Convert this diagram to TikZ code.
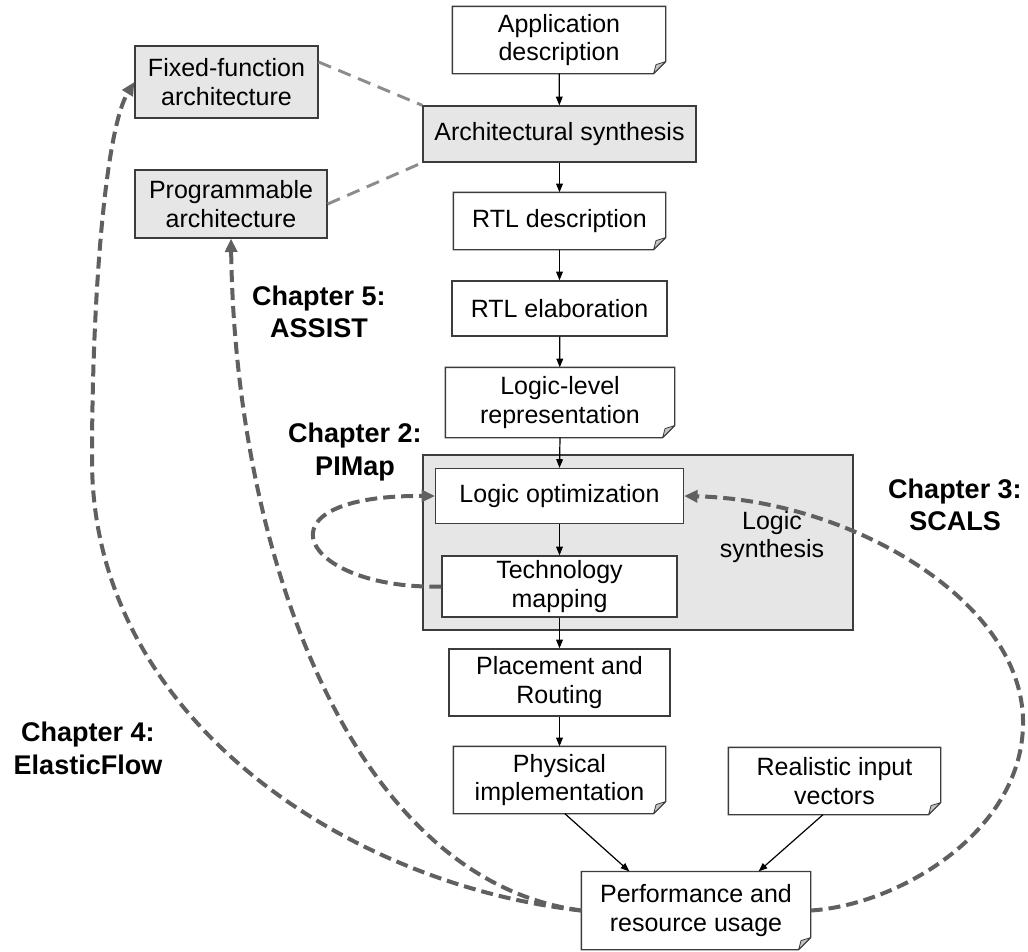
\documentclass[tikz,border=0pt]{standalone}
\usepackage{fontspec}
\setmainfont{Liberation Sans}
\usetikzlibrary{arrows.meta,backgrounds}

\definecolor{boxline}{HTML}{3C3C3C}
\definecolor{panel}{HTML}{E6E6E6}
\definecolor{flap}{HTML}{C4C4C4}
\definecolor{curve}{HTML}{606060}
\definecolor{linkgrey}{HTML}{8C8C8C}

\tikzset{
  sz/.style 2 args={minimum width=#1*0.75pt, minimum height=#2*0.75pt},
  box/.style={draw=boxline, line width=0.95pt, fill=white, align=center,
    inner sep=0pt, font=\fontsize{18.75pt}{21.5pt}\selectfont},
  shaded/.style={box, fill=panel},
  docnode/.style={box, draw=none, fill=none},
  flow/.style={-{Triangle[length=6.5pt,width=5pt]}, line width=0.9pt, black},
  feedback/.style={-{Triangle[length=10pt,width=9pt]}, line width=3pt,
    draw=curve, dash pattern=on 9pt off 4.5pt},
  link/.style={draw=linkgrey, line width=2.2pt, dash pattern=on 10pt off 6pt},
  chapter/.style={align=center, inner sep=0pt,
    font=\fontsize{20.25pt}{24.5pt}\selectfont\bfseries},
  plain/.style={align=center, inner sep=0pt,
    font=\fontsize{18.75pt}{21.5pt}\selectfont},
}

% outline of a document node: rectangle with a folded bottom-right corner
\newcommand\foldbox[1]{%
  \filldraw[fill=white, draw=boxline, line width=0.95pt]
    (#1.north west) -- (#1.north east) -- ([yshift=9pt]#1.south east)
    -- ([xshift=-9pt]#1.south east) -- (#1.south west) -- cycle;
  \filldraw[fill=flap, draw=boxline, line width=0.6pt, line join=round]
    ([yshift=9pt]#1.south east) -- ([xshift=-7.2pt,yshift=6.8pt]#1.south east)
    -- ([xshift=-9pt]#1.south east) -- cycle;
}

\begin{document}
\begin{tikzpicture}[x=0.75pt, y=-0.75pt]
\useasboundingbox (0,0) rectangle (1028,951);

% logic synthesis panel
\node[shaded, sz={430}{175}] (lsbox) at (638,542.5) {};
\node[plain] (lslabel) at (772,537) {Logic\\synthesis};

% main flow
\node[docnode, sz={212}{66}] (app) at (559,40) {Application\\description};
\node[shaded, sz={273}{56}] (arch) at (559.5,134) {Architectural synthesis};
\node[docnode, sz={211}{56}] (rtld) at (559.5,221) {RTL description};
\node[box, sz={215}{55}] (rtle) at (559.5,308.5) {RTL elaboration};
\node[docnode, sz={228}{69}] (llr) at (560,402.5) {Logic-level\\representation};
\node[box, sz={248}{55}] (lopt) at (559.5,496) {Logic optimization};
\node[box, sz={235}{61}] (tmap) at (559.5,586.5) {Technology\\mapping};
\node[box, sz={221}{67}] (pr) at (559.5,682.5) {Placement and\\Routing};
\node[docnode, sz={211}{66}] (phys) at (559.5,780) {Physical\\implementation};
\node[docnode, sz={211}{66}] (riv) at (834.5,781) {Realistic input\\vectors};
\node[docnode, sz={228}{77}] (perf) at (696,910.5) {Performance and\\resource usage};

% architecture choices
\node[shaded, sz={183}{72}] (fixed) at (226.5,82) {Fixed-function\\architecture};
\node[shaded, sz={192}{68}] (prog) at (231,204) {Programmable\\architecture};

% chapter labels
\node[chapter] (ch5) at (319,312) {Chapter 5:\\ASSIST};
\node[chapter] (ch2) at (355,452) {Chapter 2:\\PIMap};
\node[chapter] (ch3) at (955,505) {Chapter 3:\\SCALS};
\node[chapter] (ch4) at (88,748) {Chapter 4:\\ElasticFlow};

\begin{scope}[on background layer]
  \foldbox{app}
  \foldbox{rtld}
  \foldbox{llr}
  \foldbox{phys}
  \foldbox{riv}
  \foldbox{perf}
\end{scope}

% solid flow arrows
\draw[flow] (app) -- (arch);
\draw[flow] (arch) -- (rtld);
\draw[flow] (rtld) -- (rtle);
\draw[flow] (rtle) -- (llr);
\draw[flow] (llr.south) -- (lopt.north);
\draw[flow] (lopt) -- (tmap);
\draw[flow] (tmap) -- (pr);
\draw[flow] (pr) -- (phys);
\draw[flow] ([xshift=4pt]phys.south) -- ([xshift=36pt]perf.north west);
\draw[flow] ([xshift=-8.6pt]riv.south) -- ([xshift=-39pt]perf.north east);

% architecture links
\draw[link] ([yshift=15pt]fixed.east) -- (arch.north west);
\draw[link] (prog.east) -- (arch.south west);

% feedback loops
\draw[feedback] (tmap.west) .. controls (300,590) and (250,495) .. (lopt.west);
\draw[feedback] (perf.east) .. controls (900,905) and (1025,830) .. (1023,720)
  .. controls (1021,600) and (850,500) .. (lopt.east);
\draw[feedback] (perf.west) .. controls (350,885) and (92,720) .. (92,460)
  .. controls (92,300) and (105,130) .. (fixed.west);
\draw[feedback] (perf.west) .. controls (350,880) and (235,550) .. (prog.south);
\end{tikzpicture}
\end{document}
